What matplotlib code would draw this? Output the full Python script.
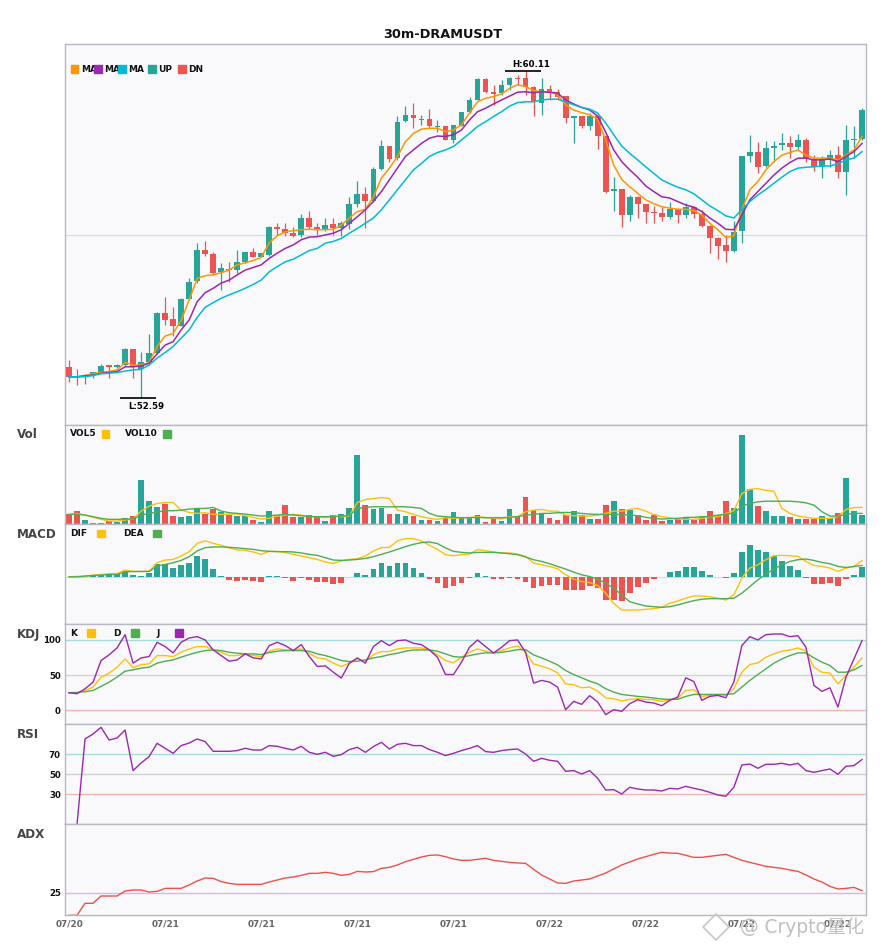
import numpy as np
import matplotlib.pyplot as plt
from matplotlib.patches import Rectangle
from matplotlib.lines import Line2D

# -----------------------------
# Data (30m candles, 100 bars)
# -----------------------------
symbol = "30m-DRAMUSDT"
tick_idx = [0, 12, 24, 36, 48, 60, 72, 84, 96]
tick_labels = ["07/20", "07/21", "07/21", "07/21", "07/21",
               "07/22", "07/22", "07/22", "07/22"]

opens = [53.30, 53.08, 53.07, 53.10, 53.17, 53.33, 53.30, 53.34, 53.71, 53.24,
         53.42, 53.61, 54.55, 54.40, 54.25, 54.86, 55.28, 56.00, 55.90, 55.49,
         55.55, 55.53, 55.72, 55.94, 55.84, 55.88, 56.53, 56.48, 56.39, 56.34,
         56.74, 56.53, 56.48, 56.59, 56.49, 56.59, 57.05, 57.29, 57.13, 57.86,
         58.39, 58.11, 58.97, 59.11, 58.99, 59.01, 58.82, 58.85, 58.53, 58.85,
         59.18, 59.45, 59.94, 59.63, 59.61, 59.80, 59.95, 59.95, 59.76, 59.39,
         59.70, 59.64, 59.54, 59.03, 59.08, 58.84, 59.08, 58.61, 57.35, 57.40,
         56.80, 57.22, 57.05, 56.87, 56.85, 56.76, 56.94, 56.81, 56.99, 56.82,
         56.55, 56.28, 56.11, 55.97, 56.42, 58.15, 58.26, 57.94, 58.35, 58.41,
         58.47, 58.37, 58.53, 58.09, 57.90, 58.07, 58.18, 57.78, 58.53, 58.56]
highs = [53.46, 53.24, 53.13, 53.19, 53.37, 53.35, 53.36, 53.74, 53.72, 53.64,
         54.06, 54.57, 54.90, 54.67, 54.88, 55.34, 56.16, 56.20, 55.94, 55.70,
         55.71, 55.99, 55.95, 56.03, 55.93, 56.55, 56.62, 56.62, 56.53, 56.82,
         56.89, 56.62, 56.74, 56.74, 56.65, 57.22, 57.58, 57.45, 57.90, 58.53,
         58.40, 59.09, 59.31, 59.38, 59.11, 59.24, 58.99, 58.86, 58.88, 59.18,
         59.53, 59.95, 59.95, 59.80, 59.91, 59.99, 60.03, 60.11, 59.77, 59.95,
         59.80, 59.70, 59.55, 59.09, 59.09, 59.15, 59.11, 58.62, 57.67, 57.41,
         57.26, 57.23, 57.06, 57.01, 56.98, 57.09, 56.95, 57.07, 57.00, 56.92,
         56.56, 56.29, 56.34, 56.67, 58.17, 58.65, 58.49, 58.51, 58.51, 58.70,
         58.62, 58.67, 58.57, 58.18, 58.17, 58.30, 58.39, 58.88, 58.84, 59.26]
lows = [52.94, 52.88, 52.91, 53.04, 53.15, 53.05, 53.27, 53.31, 53.05, 52.59,
        53.40, 53.60, 54.27, 54.00, 54.23, 54.83, 55.24, 55.86, 55.41, 55.07,
        55.26, 55.46, 55.70, 55.83, 55.83, 55.86, 56.34, 56.32, 56.30, 56.30,
        56.48, 56.34, 56.42, 56.34, 56.32, 56.48, 56.99, 56.49, 57.10, 57.84,
        58.03, 58.07, 58.95, 58.80, 58.88, 58.80, 58.72, 58.52, 58.45, 58.84,
        59.15, 59.44, 59.61, 59.34, 59.57, 59.68, 59.80, 59.57, 59.08, 59.11,
        59.45, 59.46, 58.93, 58.45, 58.80, 58.76, 58.32, 57.31, 56.90, 56.52,
        56.65, 56.73, 56.62, 56.62, 56.67, 56.70, 56.62, 56.73, 56.73, 56.53,
        55.93, 55.78, 55.72, 55.95, 56.16, 58.01, 57.76, 57.91, 58.03, 58.30,
        58.11, 58.30, 58.03, 57.82, 57.66, 57.90, 57.66, 57.26, 58.11, 58.54]
closes = [53.07, 53.06, 53.11, 53.17, 53.32, 53.30, 53.34, 53.71, 53.30, 53.41,
          53.61, 54.55, 54.38, 54.24, 54.87, 55.26, 56.00, 55.90, 55.47, 55.57,
          55.53, 55.72, 55.94, 55.84, 55.92, 56.53, 56.48, 56.39, 56.32, 56.74,
          56.53, 56.48, 56.57, 56.49, 56.62, 57.05, 57.29, 57.13, 57.86, 58.39,
          58.09, 58.95, 59.11, 59.03, 59.01, 58.84, 58.85, 58.53, 58.87, 59.18,
          59.45, 59.94, 59.63, 59.59, 59.80, 59.95, 59.93, 59.74, 59.40, 59.70,
          59.62, 59.52, 59.03, 59.08, 58.84, 59.08, 58.61, 57.34, 57.39, 56.80,
          57.22, 57.05, 56.88, 56.85, 56.76, 56.94, 56.81, 56.98, 56.82, 56.55,
          56.28, 56.09, 55.98, 56.40, 58.15, 58.26, 57.91, 58.34, 58.39, 58.47,
          58.37, 58.53, 58.11, 57.91, 58.09, 58.18, 57.78, 58.53, 58.56, 59.22]

ma_fast = [53.07, 53.07, 53.10, 53.14, 53.17, 53.19, 53.23, 53.40, 53.34, 53.34,
           53.40, 53.77, 54.01, 54.07, 54.37, 54.84, 55.34, 55.40, 55.42, 55.47,
           55.53, 55.65, 55.70, 55.75, 55.82, 56.16, 56.32, 56.41, 56.44, 56.46,
           56.47, 56.46, 56.46, 56.47, 56.57, 56.73, 56.88, 56.93, 57.22, 57.65,
           57.88, 58.15, 58.49, 58.68, 58.78, 58.80, 58.80, 58.72, 58.76, 58.88,
           59.15, 59.41, 59.49, 59.53, 59.59, 59.72, 59.80, 59.76, 59.67, 59.64,
           59.64, 59.57, 59.34, 59.22, 59.16, 59.11, 59.01, 58.53, 57.95, 57.62,
           57.45, 57.30, 57.15, 57.06, 56.99, 56.96, 56.93, 56.93, 56.90, 56.80,
           56.61, 56.46, 56.28, 56.32, 56.92, 57.38, 57.57, 57.84, 58.03, 58.18,
           58.24, 58.30, 58.18, 58.11, 58.11, 58.11, 58.07, 58.18, 58.30, 58.61]
ma_mid = [53.07, 53.07, 53.09, 53.11, 53.15, 53.17, 53.19, 53.30, 53.30, 53.32,
          53.38, 53.60, 53.80, 53.88, 54.15, 54.38, 54.80, 55.01, 55.11, 55.23,
          55.30, 55.42, 55.53, 55.59, 55.65, 55.80, 55.92, 56.03, 56.11, 56.23,
          56.29, 56.30, 56.34, 56.38, 56.46, 56.61, 56.76, 56.92, 57.11, 57.34,
          57.61, 57.88, 58.15, 58.30, 58.45, 58.57, 58.62, 58.61, 58.65, 58.76,
          58.99, 59.18, 59.26, 59.36, 59.45, 59.54, 59.63, 59.64, 59.62, 59.64,
          59.63, 59.61, 59.45, 59.36, 59.28, 59.22, 59.08, 58.71, 58.30, 58.03,
          57.84, 57.67, 57.47, 57.34, 57.22, 57.19, 57.11, 57.03, 56.98, 56.88,
          56.73, 56.61, 56.47, 56.46, 56.80, 57.15, 57.34, 57.53, 57.72, 57.88,
          58.01, 58.11, 58.11, 58.07, 58.07, 58.09, 58.03, 58.15, 58.26, 58.45]
ma_slow = [53.07, 53.07, 53.07, 53.10, 53.14, 53.15, 53.17, 53.20, 53.23, 53.24,
           53.34, 53.50, 53.63, 53.77, 53.96, 54.15, 54.44, 54.67, 54.78, 54.88,
           54.96, 55.03, 55.11, 55.20, 55.30, 55.49, 55.61, 55.72, 55.78, 55.88,
           55.98, 56.03, 56.15, 56.19, 56.26, 56.38, 56.49, 56.61, 56.73, 56.92,
           57.15, 57.38, 57.61, 57.84, 57.99, 58.15, 58.24, 58.30, 58.38, 58.53,
           58.68, 58.84, 58.95, 59.07, 59.18, 59.31, 59.39, 59.41, 59.41, 59.45,
           59.47, 59.47, 59.41, 59.34, 59.28, 59.24, 59.15, 58.92, 58.65, 58.39,
           58.22, 58.07, 57.91, 57.76, 57.61, 57.52, 57.44, 57.38, 57.29, 57.15,
           57.01, 56.90, 56.78, 56.73, 56.92, 57.11, 57.26, 57.39, 57.53, 57.67,
           57.80, 57.88, 57.90, 57.91, 57.93, 57.93, 57.98, 58.07, 58.11, 58.26]

volume = [10.0, 13.3, 4.3, 1.7, 1.7, 3.7, 2.7, 6.0, 8.3, 44.3,
          23.3, 17.3, 20.3, 8.3, 7.3, 8.3, 16.0, 10.0, 15.3, 12.3,
          9.3, 8.3, 8.3, 4.3, 2.7, 13.3, 9.3, 19.3, 7.3, 7.3,
          9.3, 7.7, 3.3, 9.3, 10.3, 16.0, 70.3, 19.3, 15.3, 16.3,
          10.3, 10.3, 8.3, 8.3, 4.3, 4.3, 3.3, 6.0, 12.3, 6.0,
          6.0, 9.3, 2.7, 6.0, 3.3, 15.3, 8.3, 27.3, 14.3, 11.3,
          6.3, 4.3, 9.3, 13.3, 9.3, 5.3, 5.3, 19.3, 23.3, 15.3,
          14.3, 9.3, 4.3, 9.3, 3.3, 4.3, 5.3, 7.3, 4.3, 7.3,
          13.3, 9.3, 23.3, 16.3, 90.3, 35.3, 18.3, 13.3, 8.3, 8.3,
          7.3, 5.3, 5.3, 5.3, 8.3, 6.3, 11.3, 46.3, 13.3, 9.3]
vol5 = [10.0, 11.0, 9.3, 7.0, 5.0, 3.3, 3.3, 4.3, 5.3, 13.3,
        18.3, 21.0, 22.0, 22.0, 14.3, 12.0, 11.0, 11.7, 10.0, 10.0,
        10.3, 10.3, 8.7, 7.0, 5.3, 6.0, 8.3, 9.3, 10.0, 9.3,
        7.7, 7.7, 6.7, 8.3, 7.7, 8.3, 22.0, 25.0, 26.0, 27.0,
        26.0, 14.3, 12.7, 10.0, 7.7, 6.0, 5.0, 6.7, 6.0, 6.7,
        6.7, 7.7, 6.7, 6.0, 5.3, 7.7, 7.7, 12.7, 14.3, 15.0,
        13.3, 13.3, 9.3, 8.7, 8.3, 8.3, 9.3, 11.0, 13.3, 13.3,
        15.0, 16.0, 13.3, 10.0, 7.7, 6.7, 5.3, 5.0, 5.0, 6.0,
        7.7, 7.7, 11.0, 13.7, 31.0, 35.3, 36.0, 34.3, 33.3, 16.0,
        11.0, 8.3, 7.0, 6.0, 6.0, 6.0, 7.7, 15.0, 17.0, 17.0]
vol10 = [10.0, 10.3, 9.3, 7.7, 6.0, 5.0, 5.0, 5.3, 5.3, 9.3,
         11.0, 12.3, 13.7, 13.7, 14.3, 15.3, 16.0, 16.0, 17.0, 13.3,
         11.7, 11.0, 10.3, 9.3, 8.3, 8.7, 9.3, 10.0, 9.3, 8.7,
         7.7, 7.7, 7.7, 7.7, 8.3, 8.7, 16.0, 17.0, 17.7, 17.7,
         17.7, 17.7, 17.7, 17.0, 16.0, 11.0, 8.3, 7.7, 7.0, 6.7,
         6.7, 7.0, 6.7, 6.7, 6.7, 7.0, 7.7, 9.3, 10.0, 11.0,
         11.0, 11.7, 12.0, 11.7, 11.0, 10.3, 10.0, 10.0, 10.0, 10.0,
         9.3, 8.7, 7.0, 6.0, 5.3, 5.7, 6.0, 7.0, 7.0, 7.7,
         7.7, 9.3, 10.3, 11.0, 18.3, 21.0, 22.7, 23.3, 23.3, 23.3,
         23.3, 22.7, 21.7, 19.3, 12.7, 8.3, 8.3, 10.0, 11.0, 11.0]

dif = [0.000, 0.003, 0.007, 0.017, 0.023, 0.030, 0.033, 0.067, 0.053, 0.053,
       0.057, 0.140, 0.167, 0.173, 0.207, 0.250, 0.333, 0.357, 0.333, 0.313,
       0.287, 0.267, 0.263, 0.247, 0.223, 0.253, 0.253, 0.240, 0.223, 0.207,
       0.190, 0.173, 0.147, 0.133, 0.157, 0.173, 0.180, 0.207, 0.257, 0.290,
       0.293, 0.357, 0.380, 0.380, 0.357, 0.313, 0.273, 0.220, 0.210, 0.220,
       0.227, 0.270, 0.260, 0.247, 0.237, 0.237, 0.227, 0.203, 0.137, 0.120,
       0.103, 0.080, 0.020, -0.023, -0.047, -0.057, -0.087, -0.163, -0.263, -0.330,
       -0.330, -0.330, -0.323, -0.317, -0.303, -0.263, -0.240, -0.213, -0.190, -0.190,
       -0.197, -0.213, -0.230, -0.180, -0.013, 0.087, 0.120, 0.170, 0.210, 0.213,
       0.210, 0.203, 0.153, 0.113, 0.103, 0.087, 0.053, 0.087, 0.103, 0.160]
dea = [0.000, 0.000, 0.007, 0.013, 0.017, 0.023, 0.023, 0.050, 0.053, 0.053,
       0.053, 0.107, 0.123, 0.140, 0.163, 0.200, 0.257, 0.290, 0.297, 0.297,
       0.293, 0.287, 0.280, 0.273, 0.260, 0.253, 0.250, 0.250, 0.247, 0.237,
       0.223, 0.213, 0.190, 0.167, 0.163, 0.167, 0.173, 0.183, 0.200, 0.223,
       0.247, 0.273, 0.300, 0.323, 0.340, 0.347, 0.330, 0.287, 0.253, 0.243,
       0.237, 0.243, 0.243, 0.243, 0.237, 0.230, 0.220, 0.197, 0.170, 0.153,
       0.130, 0.103, 0.077, 0.047, 0.020, 0.003, -0.023, -0.063, -0.113, -0.180,
       -0.247, -0.270, -0.290, -0.297, -0.303, -0.297, -0.280, -0.257, -0.237, -0.223,
       -0.217, -0.217, -0.217, -0.213, -0.163, -0.097, -0.030, 0.027, 0.077, 0.120,
       0.153, 0.170, 0.177, 0.163, 0.143, 0.130, 0.103, 0.093, 0.103, 0.113]
macd_hist = [0.000, 0.000, 0.003, 0.010, 0.017, 0.030, 0.030, 0.057, 0.023, 0.013,
             0.033, 0.123, 0.123, 0.083, 0.113, 0.140, 0.203, 0.173, 0.073, 0.013,
             -0.027, -0.037, -0.027, -0.037, -0.047, 0.013, 0.013, -0.007, -0.037, -0.010,
             -0.027, -0.047, -0.047, -0.067, -0.057, 0.000, 0.040, 0.020, 0.080, 0.140,
             0.107, 0.140, 0.140, 0.090, 0.040, -0.017, -0.060, -0.113, -0.090, -0.057,
             -0.013, 0.037, 0.010, -0.017, -0.017, -0.007, -0.017, -0.047, -0.107, -0.087,
             -0.077, -0.077, -0.130, -0.130, -0.130, -0.087, -0.107, -0.230, -0.230, -0.237,
             -0.157, -0.097, -0.063, -0.017, 0.000, 0.050, 0.060, 0.093, 0.093, 0.060,
             0.020, 0.000, -0.007, 0.040, 0.250, 0.320, 0.270, 0.250, 0.203, 0.160,
             0.103, 0.070, -0.007, -0.070, -0.070, -0.057, -0.087, -0.017, 0.020, 0.093]

k_line = [25.0, 24.5, 28.3, 33.0, 47.0, 52.8, 61.3, 73.0, 60.4, 65.0,
          66.0, 77.8, 77.8, 76.4, 82.5, 87.3, 90.6, 90.6, 85.8, 82.5,
          77.8, 77.8, 80.2, 77.8, 76.4, 84.0, 87.3, 85.8, 85.8, 87.3,
          81.1, 74.5, 73.1, 67.0, 62.3, 67.0, 73.1, 69.8, 79.2, 83.5,
          83.5, 87.3, 88.7, 88.7, 88.7, 85.8, 79.0, 70.8, 67.5, 75.5,
          82.5, 87.3, 84.0, 81.6, 84.9, 88.7, 91.5, 82.5, 66.0, 62.7,
          59.0, 53.3, 37.7, 36.3, 32.1, 33.0, 27.4, 17.9, 16.5, 13.2,
          15.6, 16.5, 15.6, 15.1, 12.7, 15.1, 17.5, 28.3, 29.2, 19.8,
          21.2, 22.2, 21.2, 30.7, 54.2, 65.1, 67.5, 75.5, 80.2, 84.0,
          85.8, 88.7, 84.0, 61.3, 54.2, 52.8, 37.7, 49.5, 61.3, 74.5]
d_line = [25.0, 25.5, 26.4, 28.3, 34.0, 40.0, 47.2, 55.7, 57.5, 60.0,
          61.3, 67.0, 69.8, 71.7, 75.5, 79.2, 82.5, 84.9, 85.8, 84.9,
          82.5, 81.1, 80.2, 80.2, 79.2, 82.1, 84.0, 84.9, 84.9, 84.9,
          84.0, 80.2, 77.8, 74.5, 70.8, 69.3, 69.8, 71.7, 74.5, 76.4,
          79.2, 81.1, 84.0, 85.8, 85.8, 85.8, 84.0, 80.2, 76.4, 75.5,
          77.8, 80.2, 81.6, 81.6, 82.5, 84.0, 86.3, 86.3, 78.8, 74.5,
          69.8, 64.6, 56.6, 50.9, 46.2, 41.5, 37.7, 30.7, 25.9, 22.6,
          21.2, 19.8, 18.9, 17.5, 16.0, 15.6, 15.6, 19.8, 22.6, 22.6,
          22.6, 22.6, 22.6, 23.6, 33.0, 42.5, 50.9, 59.0, 67.0, 73.1,
          77.8, 81.6, 81.6, 74.5, 68.4, 63.7, 54.2, 54.2, 57.5, 63.7]
j_line = [25.0, 23.6, 30.7, 40.0, 70.8, 78.8, 88.7, 107.5, 67.0, 74.5,
          76.4, 96.7, 90.6, 81.6, 96.7, 102.8, 104.7, 100.0, 85.8, 77.8,
          69.8, 71.7, 80.2, 74.5, 73.1, 92.0, 96.7, 92.0, 84.9, 93.4,
          76.4, 62.3, 63.2, 54.2, 45.8, 67.0, 74.5, 67.0, 90.6, 99.0,
          92.0, 99.0, 100.0, 95.3, 93.4, 85.8, 75.5, 50.9, 50.9, 68.4,
          89.6, 100.0, 90.6, 81.6, 89.6, 99.0, 100.0, 82.5, 38.7, 42.5,
          40.1, 33.0, 0.9, 12.7, 8.5, 20.8, 11.8, -6.1, 0.9, -1.4,
          9.4, 15.1, 11.8, 10.4, 6.6, 14.2, 18.9, 46.2, 41.0, 14.2,
          19.8, 21.2, 17.9, 40.1, 92.0, 104.7, 100.0, 107.5, 108.5, 108.5,
          104.7, 106.1, 89.6, 35.4, 26.9, 32.1, 4.7, 47.2, 73.1, 99.0]

rsi = [np.nan, 0.0, 85.3, 90.3, 97.0, 84.3, 86.3, 94.3, 53.7, 61.3,
       67.7, 81.0, 76.0, 71.0, 78.7, 81.3, 85.3, 82.7, 73.0, 73.0,
       73.0, 73.7, 76.0, 74.3, 74.3, 78.7, 78.0, 76.0, 74.3, 78.0,
       72.0, 70.0, 72.0, 68.0, 69.7, 74.7, 77.0, 72.0, 77.7, 82.0,
       75.3, 80.0, 81.0, 78.7, 78.7, 74.7, 72.0, 68.7, 71.0, 73.7,
       76.0, 78.7, 72.7, 72.0, 73.7, 74.7, 75.3, 70.3, 63.0, 66.0,
       64.0, 63.0, 53.0, 53.7, 50.3, 53.7, 46.0, 34.3, 34.7, 30.3,
       37.0, 35.3, 34.3, 34.3, 33.3, 36.0, 35.3, 38.0, 36.0, 34.3,
       32.0, 29.3, 28.0, 37.0, 59.3, 60.3, 56.0, 60.0, 60.0, 61.0,
       59.3, 61.0, 53.7, 52.0, 53.7, 55.3, 50.0, 58.0, 58.7, 64.7]
adx = [0.0, 0.0, 13.2, 13.2, 21.2, 21.2, 21.2, 26.7, 27.8, 27.8,
       25.6, 26.3, 29.6, 29.6, 29.6, 33.3, 37.7, 41.0, 40.6, 37.0,
       35.1, 34.0, 34.0, 34.0, 34.0, 36.6, 38.8, 41.0, 42.1, 43.9,
       46.1, 46.1, 47.2, 46.1, 43.9, 45.0, 48.3, 47.6, 48.0, 51.6,
       52.7, 55.3, 58.9, 61.5, 64.1, 65.9, 66.3, 64.4, 61.9, 60.4,
       60.4, 61.5, 62.6, 60.4, 59.3, 58.2, 57.5, 57.1, 50.5, 44.3,
       39.9, 35.5, 35.1, 37.7, 38.8, 39.9, 43.2, 46.5, 50.9, 55.3,
       58.6, 61.9, 64.4, 67.0, 69.2, 68.4, 68.1, 65.9, 63.7, 63.7,
       64.8, 65.9, 67.0, 63.7, 60.4, 58.2, 56.0, 53.8, 52.7, 51.6,
       49.8, 48.3, 44.3, 39.9, 36.6, 31.8, 28.9, 29.6, 30.7, 27.1]

# -----------------------------
# Style
# -----------------------------
UP, DN = "#26a69a", "#ef5350"
C_MA1, C_MA2, C_MA3 = "#ff9800", "#9c27b0", "#00bcd4"
C_YEL, C_GRN, C_PUR = "#ffc107", "#4caf50", "#9c27b0"
FACE = "#f9f9fc"
SPINE = "#b8b8c2"

W, H = 885, 950
fig = plt.figure(figsize=(W / 100, H / 100), dpi=100)


def rect(top, bottom, left=65, right=866):
    return [left / W, 1 - bottom / H, (right - left) / W, (bottom - top) / H]


def fpt(px, py):
    return (px / W, 1 - py / H)


ax_main = fig.add_axes(rect(44, 425))
ax_vol = fig.add_axes(rect(425, 524.3), sharex=ax_main)
ax_macd = fig.add_axes(rect(524.3, 624.3), sharex=ax_main)
ax_kdj = fig.add_axes(rect(624.3, 724.3), sharex=ax_main)
ax_rsi = fig.add_axes(rect(724.3, 824.3), sharex=ax_main)
ax_adx = fig.add_axes(rect(824.3, 915.3), sharex=ax_main)
axes = [ax_main, ax_vol, ax_macd, ax_kdj, ax_rsi, ax_adx]

for ax in axes:
    ax.set_facecolor(FACE)
    for s in ax.spines.values():
        s.set_color(SPINE)
        s.set_linewidth(1.0)
    ax.tick_params(length=0, labelbottom=False)

x = np.arange(len(closes))
o, h, l, c = map(np.array, (opens, highs, lows, closes))
bar_colors = np.where(c >= o, UP, DN)

# ---- main candles
ax_main.vlines(x, l, h, colors=bar_colors, lw=0.9, zorder=2)
ax_main.bar(x, np.maximum(np.abs(c - o), 0.02), bottom=np.minimum(o, c),
            width=0.72, color=bar_colors, zorder=3)
ax_main.plot(x, ma_fast, color=C_MA1, lw=1.1, zorder=4)
ax_main.plot(x, ma_mid, color=C_MA2, lw=1.1, zorder=4)
ax_main.plot(x, ma_slow, color=C_MA3, lw=1.1, zorder=4)

lo, hi = l.min(), h.max()
pad = (hi - lo) * 0.084
ax_main.set_ylim(lo - pad, hi + pad)
ax_main.set_yticks([(lo + hi) / 2])
ax_main.tick_params(axis="y", labelleft=False)
ax_main.yaxis.grid(True, color="#dcdce0", lw=0.9)
ax_main.set_axisbelow(True)
ax_main.set_xlim(-0.5, len(x) - 0.5)

hi_i, lo_i = int(np.argmax(h)), int(np.argmin(l))
ax_main.hlines(hi, hi_i - 2.6, hi_i + 1.9, color="black", lw=1.2, zorder=5)
ax_main.annotate(f"H:{hi:.2f}", (hi_i + 0.7, hi), xytext=(0, 1.8),
                 textcoords="offset points", ha="center", va="bottom",
                 fontsize=6.2, fontweight="bold")
ax_main.hlines(lo, lo_i - 2.6, lo_i + 1.9, color="black", lw=1.2, zorder=5)
ax_main.annotate(f"L:{lo:.2f}", (lo_i + 0.7, lo), xytext=(0, -3.2),
                 textcoords="offset points", ha="center", va="top",
                 fontsize=6.2, fontweight="bold")

# ---- volume
ax_vol.bar(x, volume, width=0.72, color=bar_colors)
ax_vol.plot(x, vol5, color=C_YEL, lw=1.0)
ax_vol.plot(x, vol10, color=C_GRN, lw=1.0)
ax_vol.set_ylim(0, max(volume) * 1.11)
ax_vol.set_yticks([])

# ---- MACD
hist = np.array(macd_hist)
ax_macd.bar(x, hist, width=0.72, color=np.where(hist >= 0, UP, DN))
ax_macd.axhline(0, color="#d8d8dc", lw=0.8, zorder=0)
ax_macd.plot(x, dif, color=C_YEL, lw=1.0)
ax_macd.plot(x, dea, color=C_GRN, lw=1.0)
m_lo = min(min(dif), min(dea), hist.min())
m_hi = max(max(dif), max(dea), hist.max())
m_pad = (m_hi - m_lo) * 0.2
ax_macd.set_ylim(m_lo - m_pad, m_hi + m_pad)
ax_macd.set_yticks([])

# ---- KDJ
for yv, col in [(100, "#a9dcd8"), (50, "#d2d2d6"), (0, "#f5b5b5")]:
    ax_kdj.axhline(yv, color=col, lw=1.0, zorder=0)
ax_kdj.plot(x, k_line, color=C_YEL, lw=1.0)
ax_kdj.plot(x, d_line, color=C_GRN, lw=1.0)
ax_kdj.plot(x, j_line, color=C_PUR, lw=1.0)
k_lo = min(min(k_line), min(d_line), min(j_line))
k_hi = max(max(k_line), max(d_line), max(j_line))
k_pad = (k_hi - k_lo) * 0.12
ax_kdj.set_ylim(k_lo - k_pad, k_hi + k_pad)
ax_kdj.set_yticks([0, 50, 100])

# ---- RSI
for yv, col in [(70, "#a9dcd8"), (50, "#d2d2d6"), (30, "#f5b5b5")]:
    ax_rsi.axhline(yv, color=col, lw=1.0, zorder=0)
ax_rsi.plot(x, rsi, color=C_PUR, lw=1.0)
ax_rsi.set_ylim(0, 100)
ax_rsi.set_yticks([30, 50, 70])

# ---- ADX
ax_adx.axhline(25, color="#dfb2e6", lw=1.0, zorder=0)
ax_adx.plot(x, adx, color="#f0504a", lw=1.0)
ax_adx.set_ylim(0, 100)
ax_adx.set_yticks([25])

for ax in (ax_kdj, ax_rsi, ax_adx):
    ax.tick_params(axis="y", labelsize=6.2, pad=3, labelcolor="#111111")
    for t in ax.get_yticklabels():
        t.set_fontweight("bold")

ax_adx.set_xticks(tick_idx)
ax_adx.set_xticklabels(tick_labels)
ax_adx.tick_params(axis="x", labelbottom=True, labelsize=6.4,
                   labelcolor="#666666", pad=3)
for t in ax_adx.get_xticklabels():
    t.set_fontweight("bold")

# ---- legends (drawn by hand like the source dashboard)
SQ = 7.5


def square(px, py, color, z=5):
    fig.add_artist(Rectangle(fpt(px, py + SQ / 2), SQ / W, SQ / H,
                             transform=fig.transFigure, color=color, zorder=z))


def label(px, py, text, size=6.5):
    fig.text(*fpt(px, py), text, ha="left", va="center", fontsize=size,
             fontweight="bold", color="#111111", zorder=3)


for name, col, sx in [("MA", C_MA1, 70.7), ("MA", C_MA2, 94.3), ("MA", C_MA3, 118.3),
                      ("UP", UP, 148.3), ("DN", DN, 178.3)]:
    label(sx + 10.3, 69, name)
    square(sx, 69, col)

for items, py in [([("VOL5", C_YEL, 70, 101.7), ("VOL10", C_GRN, 125, 163)], 434),
                  ([("DIF", C_YEL, 70, 97), ("DEA", C_GRN, 123, 153)], 533.5),
                  ([("K", C_YEL, 70, 87.3), ("D", C_GRN, 113, 131),
                    ("J", C_PUR, 156.7, 175)], 633)]:
    for name, col, tx, sx in items:
        label(tx, py, name)
        square(sx, py, col)

for name, py in [("Vol", 435), ("MACD", 534), ("KDJ", 634.5), ("RSI", 734.5), ("ADX", 834.5)]:
    fig.text(*fpt(17, py), name, ha="left", va="center", fontsize=8.6,
             fontweight="bold", color="#444444")

fig.text(*fpt(443, 34), symbol, ha="center", va="center", fontsize=9.3,
         fontweight="bold", color="#111111")

# watermark
fig.add_artist(Line2D([716 / W], [1 - 927 / H], marker="D", markersize=13,
                      markerfacecolor="none", markeredgecolor="#c8c8c8",
                      markeredgewidth=1.2, transform=fig.transFigure, zorder=6))
fig.text(*fpt(740, 927), "@ Crypto量化", ha="left", va="center", fontsize=13.4,
         color="#c0c0c0", family=["DejaVu Sans", "Noto Sans CJK SC"], zorder=6)

fig.savefig("out.png", dpi=100, facecolor="white")
